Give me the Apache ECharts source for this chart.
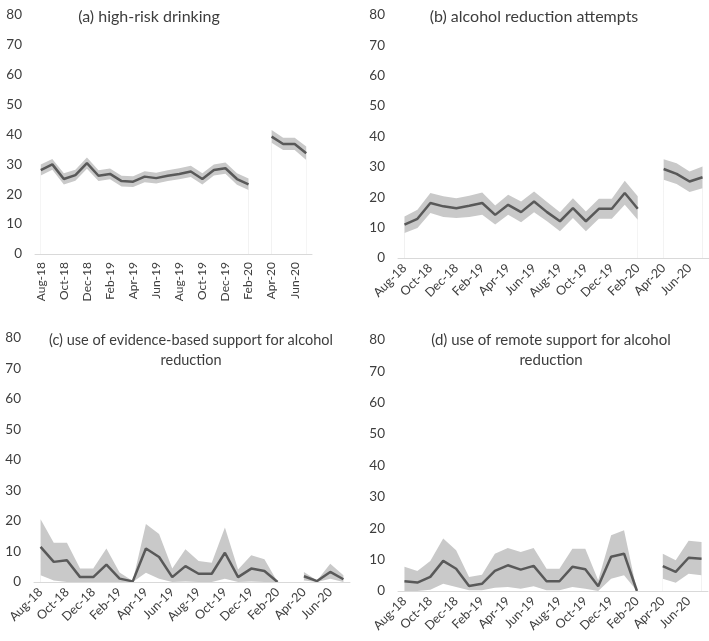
<!DOCTYPE html>
<html>
<head>
<meta charset="utf-8">
<script src="https://cdn.jsdelivr.net/npm/echarts@6/dist/echarts.min.js"></script>
<style>
  html, body { margin: 0; padding: 0; background: #fff; }
  #chart { width: 709px; height: 641px; }
</style>
</head>
<body>
<div id="chart"></div>
<script>
const months = ['Aug-18', 'Sep-18', 'Oct-18', 'Nov-18', 'Dec-18', 'Jan-19', 'Feb-19', 'Mar-19',
  'Apr-19', 'May-19', 'Jun-19', 'Jul-19', 'Aug-19', 'Sep-19', 'Oct-19', 'Nov-19', 'Dec-19',
  'Jan-20', 'Feb-20', 'Mar-20', 'Apr-20', 'May-20', 'Jun-20', 'Jul-20'];

const yTicks = [0, 10, 20, 30, 40, 50, 60, 70, 80];

const titles = [
  '(a) high-risk drinking',
  '(b) alcohol reduction attempts',
  '(c) use of evidence-based support for alcohol\nreduction',
  '(d) use of remote support for alcohol\nreduction',
];

// (a) high-risk drinking
const drinkingMean = [28.1, 30.0, 25.1, 26.4, 30.4, 26.2, 26.8, 24.4, 24.2, 25.9, 25.4, 26.2,
  26.8, 27.6, 25.1, 28.1, 28.7, 25.1, 23.3, null, 39.3, 36.8, 36.8, 33.7];
const drinkingUpper = [30.0, 31.8, 27.0, 28.2, 32.3, 28.0, 28.6, 26.2, 26.0, 27.7, 27.2, 28.0,
  28.7, 29.5, 27.0, 30.0, 30.6, 27.0, 25.3, null, 41.5, 38.9, 38.9, 36.0];
const drinkingLower = [26.3, 28.2, 23.3, 24.5, 28.5, 24.4, 25.0, 22.6, 22.4, 24.0, 23.6, 24.4,
  25.0, 25.8, 23.3, 26.3, 26.9, 23.2, 21.4, null, 37.2, 34.8, 34.8, 31.5];

// (b) alcohol reduction attempts
const attemptsMean = [11.0, 12.9, 18.1, 17.0, 16.4, 17.2, 18.1, 14.2, 17.5, 15.1, 18.6, 15.1,
  12.1, 16.4, 12.1, 16.2, 16.2, 21.4, 16.2, null, 29.3, 27.7, 25.2, 26.6];
const attemptsUpper = [13.7, 15.9, 21.4, 20.3, 19.7, 20.5, 21.6, 17.3, 20.8, 18.6, 21.9, 18.4,
  15.1, 19.7, 15.3, 19.5, 19.5, 25.4, 20.3, null, 32.5, 31.2, 28.5, 30.1];
const attemptsLower = [8.2, 9.9, 14.8, 13.5, 13.2, 13.5, 14.2, 11.0, 14.2, 11.8, 15.1, 12.1,
  8.8, 13.2, 8.8, 12.9, 12.9, 17.5, 12.6, null, 25.8, 24.4, 21.7, 23.0];

// (c) evidence-based support
const evidenceMean = [11.5, 6.6, 7.1, 1.6, 1.6, 5.7, 1.1, 0.2, 11.0, 8.2, 1.6, 5.2,
  2.7, 2.7, 9.6, 1.6, 4.4, 3.6, 0.0, null, 1.9, 0.3, 3.3, 0.9];
const evidenceUpper = [20.6, 12.9, 12.9, 4.4, 4.4, 11.0, 3.1, 0.3, 19.0, 15.7, 4.4, 10.7,
  6.9, 6.3, 17.9, 4.1, 8.8, 7.5, 0.0, null, 3.3, 0.5, 6.0, 2.2];
const evidenceLower = [2.2, 0.5, 0.0, 0.0, 0.0, 0.0, 0.0, 0.0, 3.0, 1.1, 0.0, 0.2,
  0.0, 0.0, 1.1, 0.0, 0.2, 0.0, 0.0, null, 0.5, 0.0, 1.1, 0.0];

// (d) remote support
const remoteMean = [3.1, 2.7, 4.5, 9.6, 7.1, 1.6, 2.3, 6.4, 8.2, 6.8, 8.0, 3.1,
  3.1, 7.7, 6.9, 1.5, 10.9, 11.9, 0.0, null, 7.9, 6.1, 10.6, 10.3];
const remoteUpper = [7.7, 6.4, 9.6, 16.7, 13.0, 4.5, 5.2, 11.9, 13.7, 12.4, 13.7, 7.1,
  7.1, 13.5, 13.5, 3.4, 17.8, 19.4, 0.0, null, 11.9, 9.8, 16.0, 15.6];
const remoteLower = [0.0, 0.0, 0.4, 2.3, 1.3, 0.2, 0.2, 1.0, 1.3, 0.7, 1.5, 0.2,
  0.2, 1.3, 0.7, 0.0, 3.9, 5.0, 0.0, null, 3.9, 2.6, 5.5, 5.0];

const panels = [
  { mean: drinkingMean, upper: drinkingUpper, lower: drinkingLower },
  { mean: attemptsMean, upper: attemptsUpper, lower: attemptsLower },
  { mean: evidenceMean, upper: evidenceUpper, lower: evidenceLower },
  { mean: remoteMean, upper: remoteUpper, lower: remoteLower },
];

// layout of the four panels (px)
const grids = [
  { left: 35, top: 15, width: 277, height: 239 },
  { left: 398, top: 15, width: 316, height: 243 },
  { left: 34, top: 338, width: 316, height: 244 },
  { left: 398, top: 340, width: 310, height: 251 },
];
const titlePos = [
  { x: 144, y: 2 },
  { x: 529, y: 2 },
  { x: 186, y: 325 },
  { x: 546, y: 325 },
];
// the source panels are not all at the same scale
const titleSize = [16, 16, 14.5, 15];
const labelRotate = [90, 45, 45, 45];
const labelSize = [12, 12.5, 12.5, 12.5];

const FONT = 'Lato';
const TEXT = '#3d3d3d';
const BAND = '#c9c9c9';
const LINE = '#595959';
const AXIS = '#d9d9d9';

const chart = echarts.init(document.getElementById('chart'));

const option = {
  animation: false,
  backgroundColor: '#fff',
  title: titles.map((t, i) => ({
    text: t,
    left: titlePos[i].x,
    top: titlePos[i].y,
    textAlign: 'center',
    textStyle: {
      fontFamily: FONT,
      fontSize: titleSize[i],
      fontWeight: 'normal',
      color: TEXT,
      lineHeight: 20,
      align: 'center',
    },
  })),
  grid: grids,
  xAxis: grids.map((g, i) => ({
    type: 'category',
    gridIndex: i,
    data: months,
    boundaryGap: true,
    z: 5,
    axisLine: { lineStyle: { color: AXIS, width: 1 } },
    axisTick: { interval: 1, length: 5, lineStyle: { color: AXIS } },
    axisLabel: {
      interval: 1,
      rotate: labelRotate[i],
      margin: 8,
      fontFamily: FONT,
      fontSize: labelSize[i],
      color: TEXT,
    },
  })),
  yAxis: grids.map((g, i) => ({
    type: 'value',
    gridIndex: i,
    min: yTicks[0],
    max: yTicks[yTicks.length - 1],
    interval: yTicks[1] - yTicks[0],
    axisLine: { show: false },
    axisTick: { show: false },
    splitLine: { show: false },
    axisLabel: { margin: 13, fontFamily: FONT, fontSize: 13.5, color: TEXT },
  })),
  series: [],
};

panels.forEach((p, i) => {
  // upper bound filled grey down to the axis
  option.series.push({
    type: 'line',
    xAxisIndex: i,
    yAxisIndex: i,
    data: p.upper,
    symbol: 'none',
    lineStyle: { width: 0 },
    areaStyle: { color: BAND, opacity: 1 },
    z: 1,
  });
  // lower bound filled white, cutting out the band
  option.series.push({
    type: 'line',
    xAxisIndex: i,
    yAxisIndex: i,
    data: p.lower,
    symbol: 'none',
    lineStyle: { width: 0 },
    areaStyle: { color: '#fff', opacity: 1 },
    z: 2,
  });
  option.series.push({
    type: 'line',
    xAxisIndex: i,
    yAxisIndex: i,
    data: p.mean,
    symbol: 'none',
    lineStyle: { color: LINE, width: 2.5 },
    z: 3,
  });
});

chart.setOption(option);
window.addEventListener('resize', chart.resize);
</script>
</body>
</html>
